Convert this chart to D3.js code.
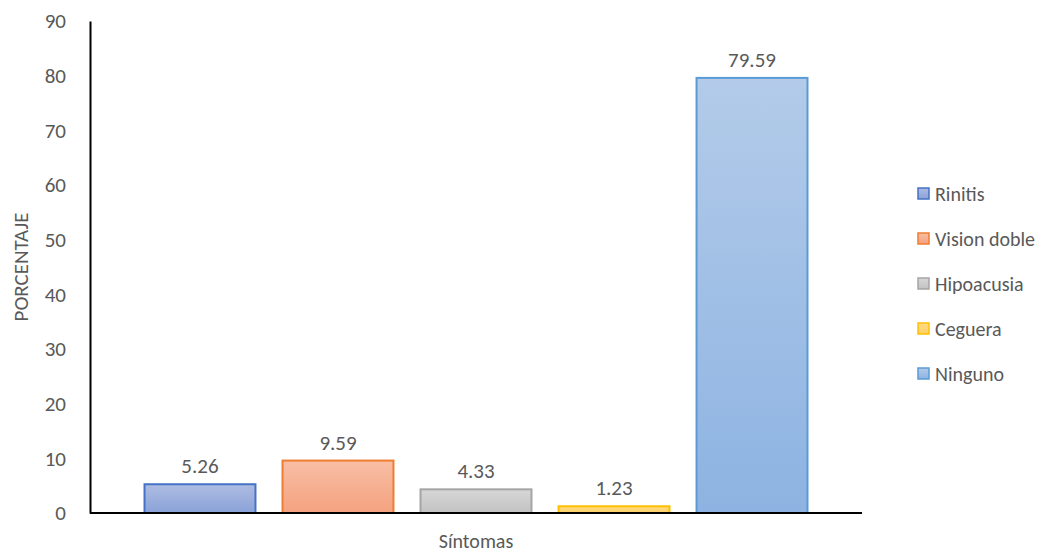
<!DOCTYPE html>
<html>
<head>
<meta charset="utf-8">
<script src="https://cdn.jsdelivr.net/npm/d3@7"></script>
<style>
  body { margin: 0; background: #fff; }
  svg { font-family: Calibri, Carlito, Lato, sans-serif; }
</style>
</head>
<body>
<svg id="chart"></svg>
<script>
// --- data ---
const series = ["Rinitis", "Vision doble", "Hipoacusia", "Ceguera", "Ninguno"];
const values = [5.26, 9.59, 4.33, 1.23, 79.59];
const yTicks = [0, 10, 20, 30, 40, 50, 60, 70, 80, 90];
const category = "Síntomas";

// colores estilo Excel: borde, relleno arriba, relleno abajo
const strokes = ["#4472c4", "#ed7d31", "#a5a5a5", "#ffc000", "#5b9bd5"];
const topFill = ["#aebce2", "#f8bea5", "#d7d7d7", "#ffdc88", "#b3cbe9"];
const botFill = ["#8aa2d8", "#f4a27f", "#c2c2c2", "#ffcf66", "#8db3e2"];

const width = 1050, height = 556;
const m = { left: 90, right: 188, top: 21, bottom: 43 };
const font = "Calibri, Carlito, Lato, sans-serif";

const svg = d3.select("#chart").attr("width", width).attr("height", height);

const x = d3.scaleBand()
  .domain(series)
  .range([m.left, width - m.right])
  .paddingInner(0.196)
  .paddingOuter(0.395);

const y = d3.scaleLinear()
  .domain([0, 90])
  .range([height - m.bottom, m.top]);

// gradientes
const defs = svg.append("defs");
series.forEach((s, i) => {
  const g = defs.append("linearGradient")
    .attr("id", "g" + i)
    .attr("x1", 0).attr("y1", 0).attr("x2", 0).attr("y2", 1);
  g.append("stop").attr("offset", "0%").attr("stop-color", topFill[i]);
  g.append("stop").attr("offset", "100%").attr("stop-color", botFill[i]);
});

// barras
svg.append("g")
  .selectAll("rect")
  .data(values)
  .join("rect")
  .attr("x", (d, i) => x(series[i]))
  .attr("y", d => y(d))
  .attr("width", x.bandwidth())
  .attr("height", d => y(0) - y(d))
  .attr("fill", (d, i) => `url(#g${i})`)
  .attr("stroke", (d, i) => strokes[i])
  .attr("stroke-width", 2);

// etiquetas de datos
svg.append("g")
  .selectAll("text")
  .data(values)
  .join("text")
  .attr("x", (d, i) => x(series[i]) + x.bandwidth() / 2)
  .attr("y", d => y(d) - 11)
  .attr("text-anchor", "middle")
  .attr("fill", "#595959")
  .attr("font-size", 21)
  .text(d => d.toFixed(2));

// eje y
const yAxis = svg.append("g")
  .attr("transform", `translate(${m.left},0)`)
  .call(d3.axisLeft(y).tickValues(yTicks).tickSize(0).tickPadding(24));
yAxis.select(".domain").attr("stroke", "#000").attr("stroke-width", 2);
yAxis.selectAll("text").attr("fill", "#595959").attr("font-size", 21)
  .attr("font-family", font);

// eje x
svg.append("line")
  .attr("x1", m.left).attr("x2", width - m.right)
  .attr("y1", y(0)).attr("y2", y(0))
  .attr("stroke", "#000").attr("stroke-width", 2);

svg.append("text")
  .attr("x", (m.left + width - m.right) / 2)
  .attr("y", 548)
  .attr("text-anchor", "middle")
  .attr("fill", "#595959")
  .attr("font-size", 20)
  .text(category);

svg.append("text")
  .attr("transform", `translate(28,${(m.top + height - m.bottom) / 2}) rotate(-90)`)
  .attr("text-anchor", "middle")
  .attr("fill", "#595959")
  .attr("font-size", 21)
  .text("PORCENTAJE");

// leyenda
const legend = svg.append("g")
  .selectAll("g")
  .data(series)
  .join("g")
  .attr("transform", (d, i) => `translate(918,${194 + i * 45})`);

legend.append("rect")
  .attr("x", 0).attr("y", -6)
  .attr("width", 11).attr("height", 11)
  .attr("fill", (d, i) => `url(#g${i})`)
  .attr("stroke", (d, i) => strokes[i])
  .attr("stroke-width", 1.5);

legend.append("text")
  .attr("x", 17).attr("y", 0)
  .attr("dy", "0.35em")
  .attr("fill", "#595959")
  .attr("font-size", 20)
  .text(d => d);
</script>
</body>
</html>
